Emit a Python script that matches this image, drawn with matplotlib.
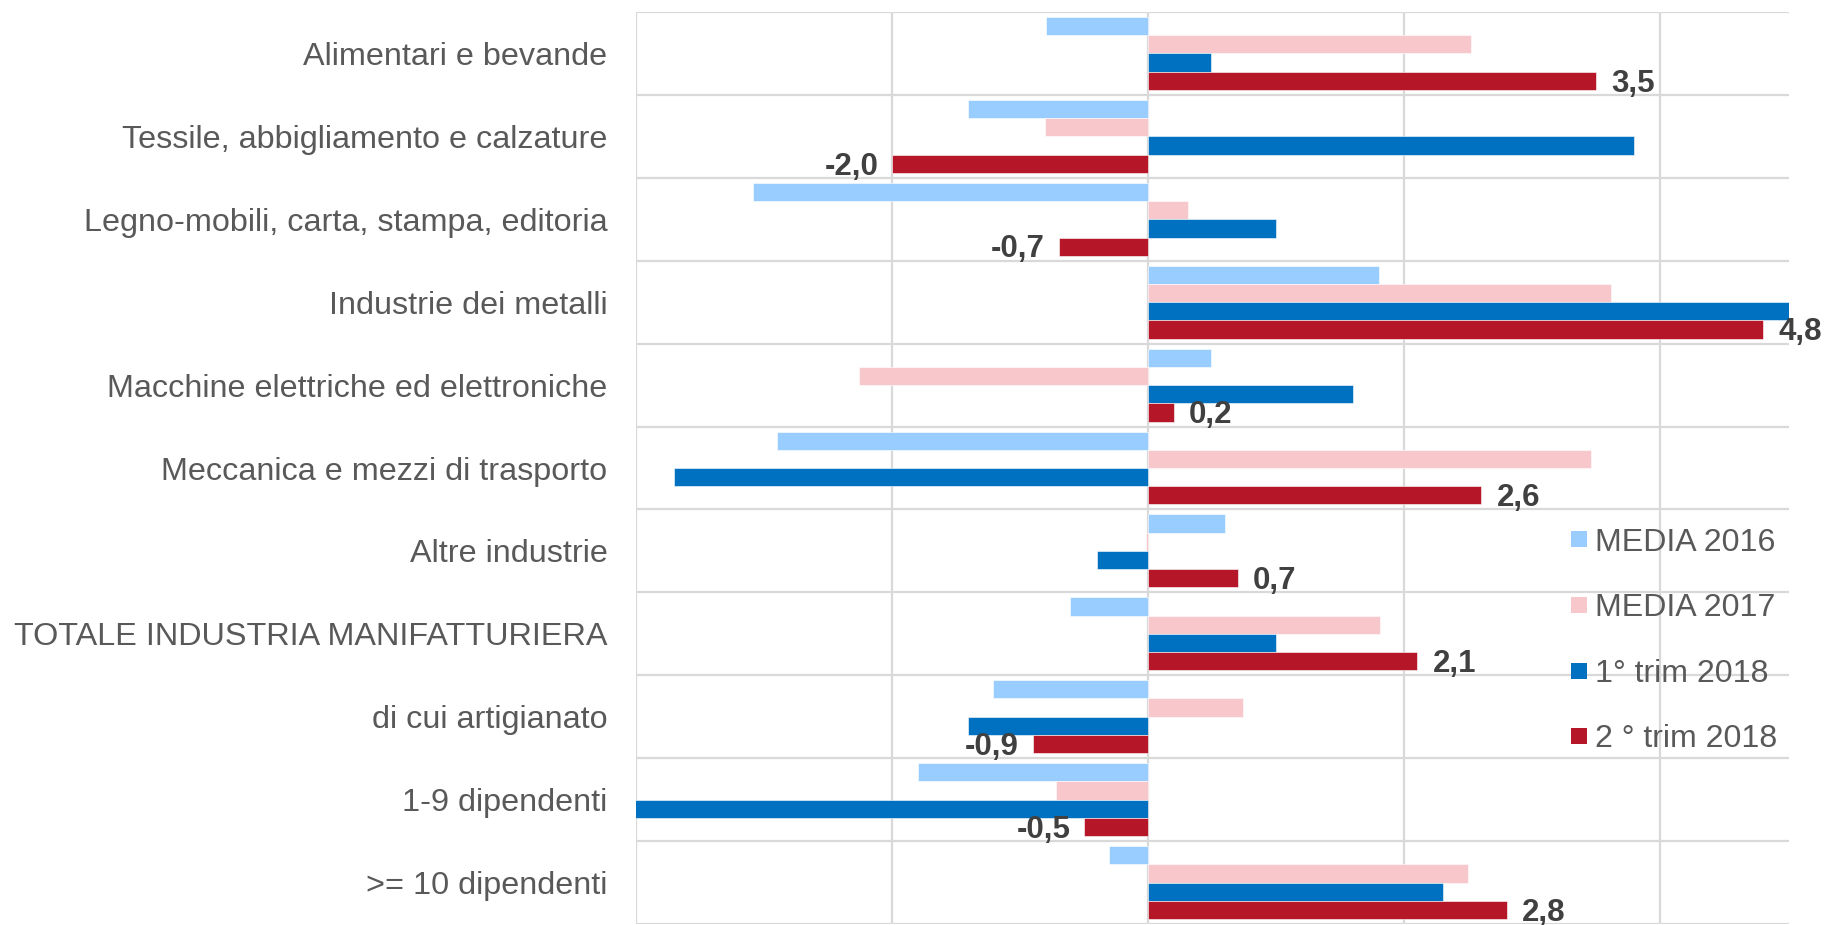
import numpy as np
import matplotlib
matplotlib.use("Agg")
import matplotlib.pyplot as plt
from matplotlib.lines import Line2D

plt.rcParams['font.family'] = ['Liberation Sans', 'DejaVu Sans']

categorie = [
    "Alimentari e bevande",
    "Tessile, abbigliamento e calzature",
    "Legno-mobili, carta, stampa, editoria",
    "Industrie dei metalli",
    "Macchine elettriche ed elettroniche",
    "Meccanica e mezzi di trasporto",
    "Altre industrie",
    "TOTALE INDUSTRIA MANIFATTURIERA",
    "di cui artigianato",
    "1-9 dipendenti",
    ">= 10 dipendenti",
]

media_2016 = [-0.80, -1.41, -3.09, 1.80, 0.49, -2.90, 0.60, -0.61, -1.21, -1.80, -0.31]
media_2017 = [2.52, -0.81, 0.31, 3.61, -2.26, 3.46, -0.02, 1.81, 0.74, -0.72, 2.50]
trim1_2018 = [0.49, 3.79, 1.00, 5.30, 1.60, -3.70, -0.40, 1.00, -1.41, -4.20, 2.30]
trim2_2018 = [3.5, -2.0, -0.7, 4.8, 0.2, 2.6, 0.7, 2.1, -0.9, -0.5, 2.8]

serie = [
    ("MEDIA 2016", media_2016, "#99CCFF"),
    ("MEDIA 2017", media_2017, "#F8C7CC"),
    ("1° trim 2018", trim1_2018, "#0070C0"),
    ("2 ° trim 2018", trim2_2018, "#B51628"),
]

grigio = "#595959"
griglia = "#D9D9D9"

fig = plt.figure(figsize=(18.25, 9.25), dpi=100)
ax = fig.add_axes([0.3485, 0.0011, 0.6315, 0.9859])

y = np.arange(len(categorie))
bh = 0.22
for k, (nome, valori, colore) in enumerate(serie):
    ax.barh(y + (k - 1.5) * bh, valori, height=bh, color=colore,
            edgecolor="white", linewidth=0.4, label=nome, zorder=3)

# etichette solo per il 2° trimestre
for yi, v in zip(y + 1.5 * bh, trim2_2018):
    testo = f"{v:.1f}".replace(".", ",")
    if v >= 0:
        ax.annotate(testo, (v, yi), xytext=(11, -2), textcoords="offset points",
                    ha="left", va="center", fontsize=22.5, fontweight="bold",
                    color="#404040", annotation_clip=False, zorder=5)
    else:
        ax.annotate(testo, (v, yi), xytext=(-10, -2), textcoords="offset points",
                    ha="right", va="center", fontsize=22.5, fontweight="bold",
                    color="#404040", annotation_clip=False, zorder=5)

ax.set_xlim(-4, 5)
ax.set_ylim(len(categorie) - 0.5, -0.5)
ax.set_xticks([-4, -2, 0, 2, 4])
ax.set_xticklabels([])
ax.set_yticks(y)
ax.set_yticklabels(categorie, fontsize=23.3, color=grigio)
ax.set_yticks(np.arange(len(categorie) + 1) - 0.5, minor=True)
ax.tick_params(axis="both", which="both", length=0)
ax.tick_params(axis="y", pad=20.5)
ax.grid(axis="x", which="major", color=griglia, linewidth=1.6, zorder=0)
ax.grid(axis="y", which="minor", color=griglia, linewidth=1.6, zorder=0)
for s in ax.spines.values():
    s.set_visible(False)

handles = [Line2D([], [], marker="s", linestyle="none", markersize=11,
                  color=c, markeredgewidth=0) for _, _, c in serie]
etichette = [n for n, _, _ in serie]
leg = fig.legend(handles, etichette, loc="center left",
                 bbox_to_anchor=(0.860, 0.307), frameon=False,
                 fontsize=23.1, labelspacing=1.11, handlelength=0.6,
                 handletextpad=0.2, borderpad=0, borderaxespad=0)
for t in leg.get_texts():
    t.set_color(grigio)

fig.savefig("out.png", dpi=100)
